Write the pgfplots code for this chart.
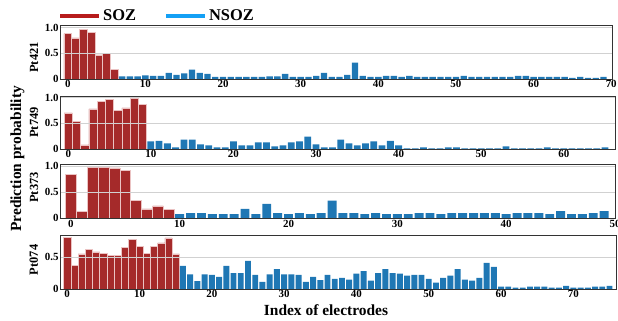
\documentclass[border=0pt]{standalone}
\usepackage{pgfplots}
\pgfplotsset{compat=1.18}
\usepackage{fontspec}
\setmainfont{Liberation Serif}
\definecolor{sozred}{RGB}{165,42,42}
\definecolor{sozedge}{RGB}{235,195,195}
\definecolor{nsozblue}{RGB}{31,119,180}
\definecolor{legred}{RGB}{183,28,28}
\definecolor{legblue}{RGB}{20,160,245}
\pgfplotsset{
  panel/.style={
    scale only axis, anchor=south west,
    xmin=-1, ymin=0,
    axis line style={black!80, line width=0.9bp},
    ymajorgrids, grid style={black!18, line width=0.9bp},
    major tick length=0pt, minor tick num=0,
    axis on top,
    tick label style={font=\fontsize{11}{12}\selectfont\bfseries},
    /pgf/number format/assume math mode=true,
    xticklabel style={inner ysep=1.5bp},
    yticklabel style={inner xsep=1.2bp},
    ylabel style={font=\fontsize{12.5}{14}\selectfont\bfseries, rotate=0, anchor=base, at={(axis description cs:-0.0396,0.5)}},
  },
  redbar/.style={ybar, bar width=1, bar shift=0pt, fill=sozred, draw=sozedge, line width=0.6bp, forget plot},
  bluebar/.style={ybar, bar width=0.82, bar shift=0pt, fill=nsozblue, draw=none, forget plot},
}
\begin{document}
\begin{tikzpicture}[x=1bp,y=1bp]
\useasboundingbox (0,0) rectangle (618,320);

% Panel 1
\begin{axis}[panel, at={(60bp,241bp)}, width=552bp, height=54bp,
  xmax=70.1, ymax=1.05,
  xtick={0,10,...,70}, ytick={0,0.5,1}, yticklabels={0,0.5,1.0},
  ylabel={Pt421},
  ylabel style={at={(axis description cs:-0.0396,0.4)}},
  legend style={draw=none, fill=none, at={(axis description cs:-0.0036,1.17)}, anchor=west,
    legend columns=2, font=\fontsize{16.5}{18}\selectfont\bfseries, inner sep=0pt,
    /tikz/every even column/.append style={column sep=26bp}},
  legend image code/.code={\draw[#1] (0bp,0bp) -- (39bp,0bp);},
]
\addlegendimage{line width=4bp, color=legred}
\addlegendentry{SOZ}
\addlegendimage{line width=4bp, color=legblue}
\addlegendentry{NSOZ}
\addplot[redbar] coordinates {(0,0.88)(1,0.80)(2,0.97)(3,0.90)(4,0.47)(5,0.49)(6,0.19)};
\addplot[bluebar] coordinates {(7,0.05)(8,0.05)(9,0.05)(10,0.07)(11,0.06)(12,0.06)(13,0.12)(14,0.08)(15,0.11)(16,0.18)(17,0.12)(18,0.10)(19,0.04)(20,0.04)(21,0.04)(22,0.04)(23,0.04)(24,0.04)(25,0.04)(26,0.05)(27,0.05)(28,0.10)(29,0.04)(30,0.04)(31,0.04)(32,0.06)(33,0.12)(34,0.04)(35,0.04)(36,0.08)(37,0.32)(38,0.06)(39,0.04)(40,0.04)(41,0.06)(42,0.06)(43,0.04)(44,0.06)(45,0.04)(46,0.04)(47,0.04)(48,0.04)(49,0.04)(50,0.04)(51,0.06)(52,0.04)(53,0.04)(54,0.04)(55,0.04)(56,0.04)(57,0.04)(58,0.06)(59,0.06)(60,0.04)(61,0.04)(62,0.04)(63,0.04)(64,0.04)(65,0.02)(66,0.04)(67,0.02)(68,0.02)(69,0.04)};
\end{axis}

% Panel 2
\begin{axis}[panel, at={(60bp,171bp)}, width=555bp, height=53bp,
  xmax=66.2, ymax=1.03,
  xtick={0,10,...,60}, ytick={0,0.5,1}, yticklabels={0,0.5,1.0},
  ylabel={Pt749},
]
\addplot[redbar] coordinates {(0,0.70)(1,0.53)(2,0.08)(3,0.78)(4,0.92)(5,0.96)(6,0.75)(7,0.80)(8,0.98)(9,0.87)};
\addplot[bluebar] coordinates {(10,0.15)(11,0.16)(12,0.11)(13,0.03)(14,0.18)(15,0.18)(16,0.09)(17,0.07)(18,0.03)(19,0.03)(20,0.15)(21,0.07)(22,0.07)(23,0.13)(24,0.13)(25,0.05)(26,0.07)(27,0.13)(28,0.15)(29,0.24)(30,0.09)(31,0.03)(32,0.03)(33,0.18)(34,0.11)(35,0.07)(36,0.11)(37,0.15)(38,0.07)(39,0.16)(40,0.07)(41,0.01)(42,0.01)(43,0.03)(44,0.01)(45,0.01)(46,0.03)(47,0.03)(48,0.01)(49,0.01)(50,0.01)(51,0.01)(52,0.01)(53,0.05)(54,0.01)(55,0.01)(56,0.01)(57,0.01)(58,0.03)(59,0.01)(60,0.01)(61,0.01)(62,0.01)(63,0.01)(64,0.01)(65,0.03)};
\end{axis}

% Panel 3
\begin{axis}[panel, at={(60bp,101.7bp)}, width=555bp, height=54bp,
  xmax=50, ymax=1.04,
  xtick={0,10,...,50}, ytick={0,0.5,1}, yticklabels={0,0.5,1.0},
  ylabel={Pt373},
  ylabel style={at={(axis description cs:-0.0396,0.57)}},
]
\addplot[redbar] coordinates {(0,0.85)(1,0.13)(2,0.99)(3,0.99)(4,0.97)(5,0.92)(6,0.34)(7,0.18)(8,0.24)(9,0.17)};
\addplot[bluebar] coordinates {(10,0.08)(11,0.10)(12,0.10)(13,0.08)(14,0.08)(15,0.08)(16,0.18)(17,0.08)(18,0.28)(19,0.10)(20,0.08)(21,0.10)(22,0.08)(23,0.10)(24,0.34)(25,0.10)(26,0.10)(27,0.08)(28,0.10)(29,0.08)(30,0.08)(31,0.08)(32,0.10)(33,0.10)(34,0.08)(35,0.10)(36,0.10)(37,0.10)(38,0.10)(39,0.10)(40,0.08)(41,0.10)(42,0.10)(43,0.10)(44,0.08)(45,0.14)(46,0.08)(47,0.08)(48,0.10)(49,0.14)};
\end{axis}

% Panel 4
\begin{axis}[panel, at={(60bp,31bp)}, width=556bp, height=54bp,
  xmax=75.9, ymax=0.844,
  xtick={0,10,...,70}, ytick={0,0.5}, yticklabels={0,0.5},
  ylabel={Pt074},
  ylabel style={at={(axis description cs:-0.0396,0.54)}},
]
\addplot[redbar] coordinates {(0,0.81)(1,0.375)(2,0.55)(3,0.625)(4,0.58)(5,0.56)(6,0.53)(7,0.52)(8,0.65)(9,0.77)(10,0.67)(11,0.56)(12,0.67)(13,0.72)(14,0.80)(15,0.55)};
\addplot[bluebar] coordinates {(16,0.36)(17,0.23)(18,0.125)(19,0.23)(20,0.22)(21,0.19)(22,0.36)(23,0.25)(24,0.25)(25,0.44)(26,0.22)(27,0.11)(28,0.23)(29,0.31)(30,0.23)(31,0.23)(32,0.22)(33,0.11)(34,0.19)(35,0.14)(36,0.22)(37,0.16)(38,0.175)(39,0.145)(40,0.24)(41,0.28)(42,0.13)(43,0.25)(44,0.31)(45,0.25)(46,0.24)(47,0.21)(48,0.22)(49,0.22)(50,0.16)(51,0.10)(52,0.175)(53,0.21)(54,0.31)(55,0.145)(56,0.13)(57,0.175)(58,0.41)(59,0.345)(60,0.036)(61,0.036)(62,0.02)(63,0.02)(64,0.036)(65,0.036)(66,0.036)(67,0.02)(68,0.02)(69,0.05)(70,0.02)(71,0.02)(72,0.02)(73,0.036)(74,0.036)(75,0.05)};
\end{axis}

\node[rotate=90, anchor=base, font=\fontsize{15.5}{17}\selectfont\bfseries] at (21,161) {Prediction probability};
\node[anchor=base, font=\fontsize{15.5}{17}\selectfont\bfseries] at (326,4.3) {Index of electrodes};
\end{tikzpicture}
\end{document}
